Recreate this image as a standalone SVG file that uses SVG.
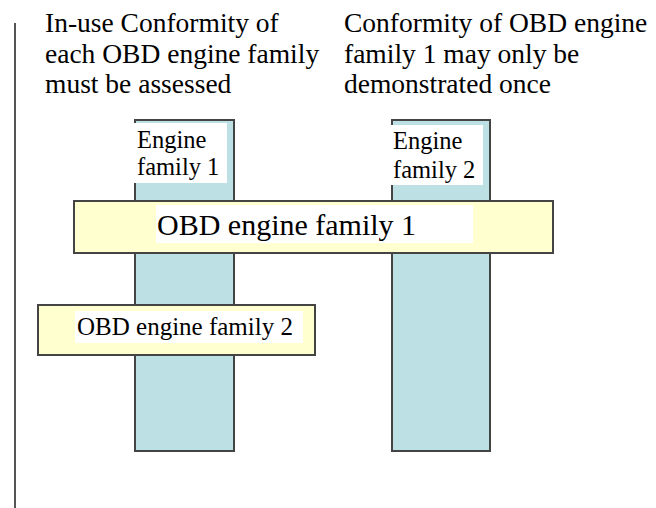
<svg xmlns="http://www.w3.org/2000/svg" width="656" height="508" viewBox="0 0 656 508">
<style>
text{font-family:'Liberation Serif','Times New Roman','DejaVu Serif',serif;fill:#000}
.col{fill:#bce0e3;stroke:#444;stroke-width:2}
.bar{fill:#ffffd0;stroke:#444;stroke-width:2}
.lbl{fill:#fff}
</style>
<rect width="656" height="508" fill="#fff"/>
<line x1="15" y1="23" x2="15" y2="508" stroke="#555" stroke-width="2"/>
<g id="caption-left">
<text font-size="27.5" x="45" y="32">In-use Conformity of</text>
<text font-size="27.5" x="45" y="63">each OBD engine family</text>
<text font-size="27.5" x="45" y="93">must be assessed</text>
</g>
<g id="caption-right">
<text font-size="27.5" x="344" y="32">Conformity of OBD engine</text>
<text font-size="27.5" x="344" y="63">family 1 may only be</text>
<text font-size="27.5" x="344" y="93">demonstrated once</text>
</g>
<g id="engine-family-1">
<rect class="col" x="135" y="120" width="99" height="331"/>
<rect class="lbl" x="134" y="123" width="93" height="60"/>
<text font-size="24.5" x="137" y="148">Engine</text>
<text font-size="24.5" x="137" y="175">family 1</text>
</g>
<g id="engine-family-2">
<rect class="col" x="392" y="120" width="98" height="331"/>
<rect class="lbl" x="391" y="125" width="92" height="60"/>
<text font-size="24.5" x="393" y="149">Engine</text>
<text font-size="24.5" x="393" y="178">family 2</text>
</g>
<g id="obd-family-1">
<rect class="bar" x="74" y="201" width="479" height="52"/>
<rect class="lbl" x="156" y="205" width="317" height="38"/>
<text font-size="30" x="157" y="235">OBD engine family 1</text>
</g>
<g id="obd-family-2">
<rect class="bar" x="38" y="305" width="277" height="50"/>
<rect class="lbl" x="75" y="311" width="228" height="32"/>
<text font-size="25" x="77" y="335">OBD engine family 2</text>
</g>
</svg>
